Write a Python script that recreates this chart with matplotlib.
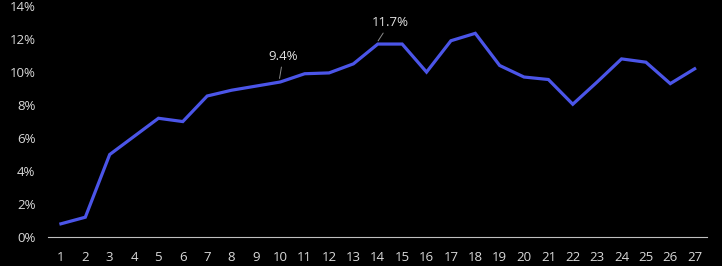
import matplotlib
matplotlib.use('Agg')
import matplotlib.pyplot as plt
from matplotlib.ticker import PercentFormatter

periods = list(range(1, 28))
rates = [0.8, 1.2, 5.0, 6.1, 7.2, 7.0, 8.55, 8.9, 9.15, 9.4, 9.9, 9.95, 10.5, 11.7,
         11.7, 10.0, 11.9, 12.35, 10.4, 9.7, 9.55, 8.05, 9.4, 10.8, 10.6, 9.3, 10.2]
# points that get a callout label, and where the label sits
callouts = [10, 14]
label_pos = [(10.12, 10.95), (14.5, 13.0)]

plt.rcParams['font.family'] = ['Open Sans', 'DejaVu Sans']

fig = plt.figure(figsize=(7.22, 2.66), dpi=100, facecolor='black')
ax = fig.add_axes([0.0665, 0.109, 0.9125, 0.868], facecolor='black')

ax.plot(periods, rates, color='#4B55E8', linewidth=2.3, solid_joinstyle='miter')

for p, (tx, ty) in zip(callouts, label_pos):
    v = rates[p - 1]
    ax.annotate('%.1f%%' % v, xy=(p - 0.05, v + 0.05), xytext=(tx, ty),
                ha='center', va='center', color='#E0E0E0', fontsize=9.5,
                arrowprops=dict(arrowstyle='-', color='#8C8C8C', lw=0.7,
                                shrinkA=1, shrinkB=2))

ax.set_xlim(0.47, 27.5)
ax.set_ylim(0, 14)
ax.set_xticks(periods)
ax.set_yticks(range(0, 15, 2))
ax.yaxis.set_major_formatter(PercentFormatter(decimals=0))

for s in ['top', 'right', 'left']:
    ax.spines[s].set_visible(False)
ax.spines['bottom'].set_color('#BFBFBF')
ax.spines['bottom'].set_linewidth(0.8)
ax.tick_params(length=0, colors='#D9D9D9', labelsize=9.5)
ax.tick_params(axis='x', pad=10)
ax.tick_params(axis='y', pad=9)

fig.savefig('out.png', dpi=100, facecolor='black')
